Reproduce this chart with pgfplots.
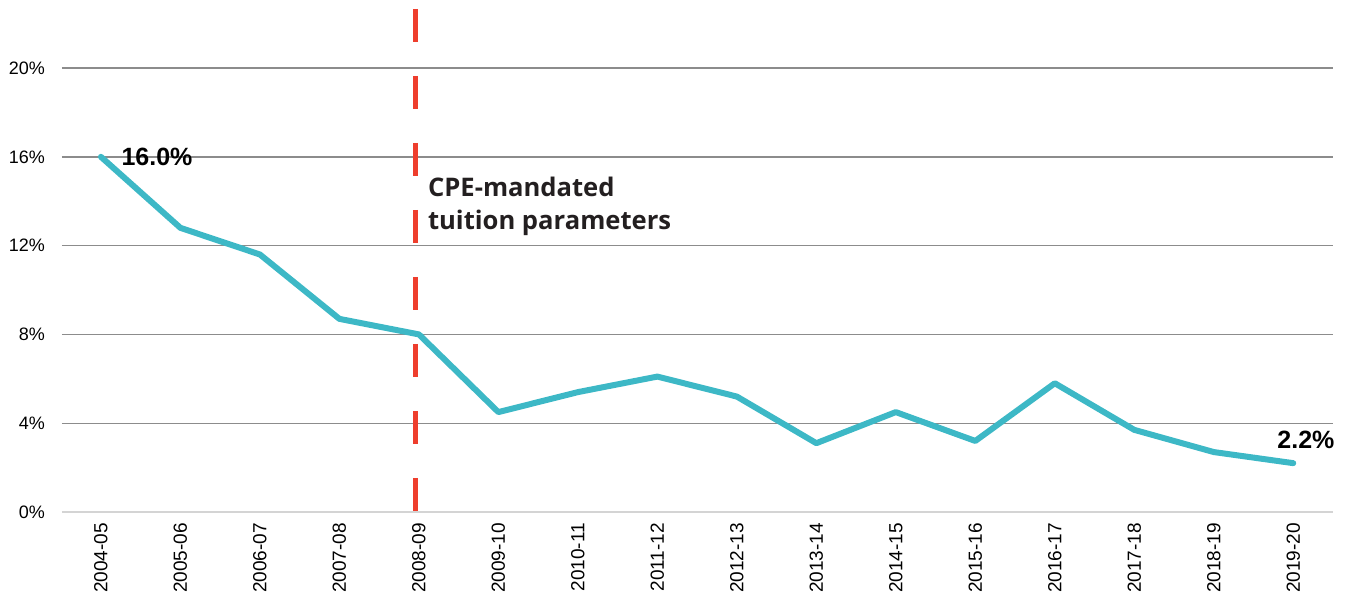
\documentclass[border=0pt]{standalone}
\usepackage{fontspec}
\setmainfont{Liberation Sans}
\newfontfamily\opensans{Open Sans}
\usepackage{pgfplots}
\pgfplotsset{compat=1.18}

\definecolor{teal}{HTML}{3DB8C6}
\definecolor{cpered}{HTML}{EE3E2D}
\definecolor{gridgray}{HTML}{8C8C8C}
\definecolor{zerogray}{HTML}{D4D4D4}
\definecolor{darktext}{HTML}{231F20}

\begin{document}
\begin{tikzpicture}
\useasboundingbox (-31pt,-43pt) rectangle (642pt,256pt);
\begin{axis}[
    scale only axis,
    width=635.5pt,
    height=251.5pt,
    xmin=-0.49, xmax=15.5,
    ymin=0, ymax=22.66,
    axis line style={draw=none},
    major tick style={draw=none},
    xtick=data,
    xticklabels={2004-05,2005-06,2006-07,2007-08,2008-09,2009-10,2010-11,2011-12,
                 2012-13,2013-14,2014-15,2015-16,2016-17,2017-18,2018-19,2019-20},
    x tick label style={rotate=90, anchor=east, font=\fontsize{9.5}{10}\selectfont},
    ytick={4,8,12,16,20},
    yticklabel={\pgfmathprintnumber{\tick}\%},
    extra y ticks={0},
    extra y tick labels={0\%},
    extra y tick style={grid style={zerogray, line width=0.75pt}},
    y tick label style={font=\fontsize{9}{10}\selectfont},
    /pgf/number format/assume math mode=true,
    ymajorgrids,
    grid style={gridgray, line width=0.7pt},
    yticklabel shift=5pt,
    xticklabel shift=2pt,
    clip=false,
]
\addplot[teal, line width=3pt, line join=round, line cap=round] coordinates {
    (0,16.0) (1,12.8) (2,11.6) (3,8.7) (4,8.0) (5,4.5) (6,5.4) (7,6.1)
    (8,5.2) (9,3.1) (10,4.5) (11,3.2) (12,5.8) (13,3.7) (14,2.7) (15,2.2)
};
\draw[cpered, line width=2.5pt, dash pattern=on 16.5pt off 17pt]
    (axis cs:3.96,22.66) -- (axis cs:3.96,0);
\node[anchor=west, font=\fontsize{12.5}{13}\bfseries] at (axis cs:0.17,16.0) {16.0\%};
\node[font=\fontsize{12.5}{13}\bfseries] at (axis cs:15.16,3.25) {2.2\%};
\node[anchor=north west, align=left, text=darktext, inner sep=0pt,
      font=\opensans\fontsize{12.8}{16.3}\bfseries] at (axis cs:4.11,15.1)
    {CPE-mandated\\tuition parameters};
\end{axis}
\end{tikzpicture}
\end{document}
